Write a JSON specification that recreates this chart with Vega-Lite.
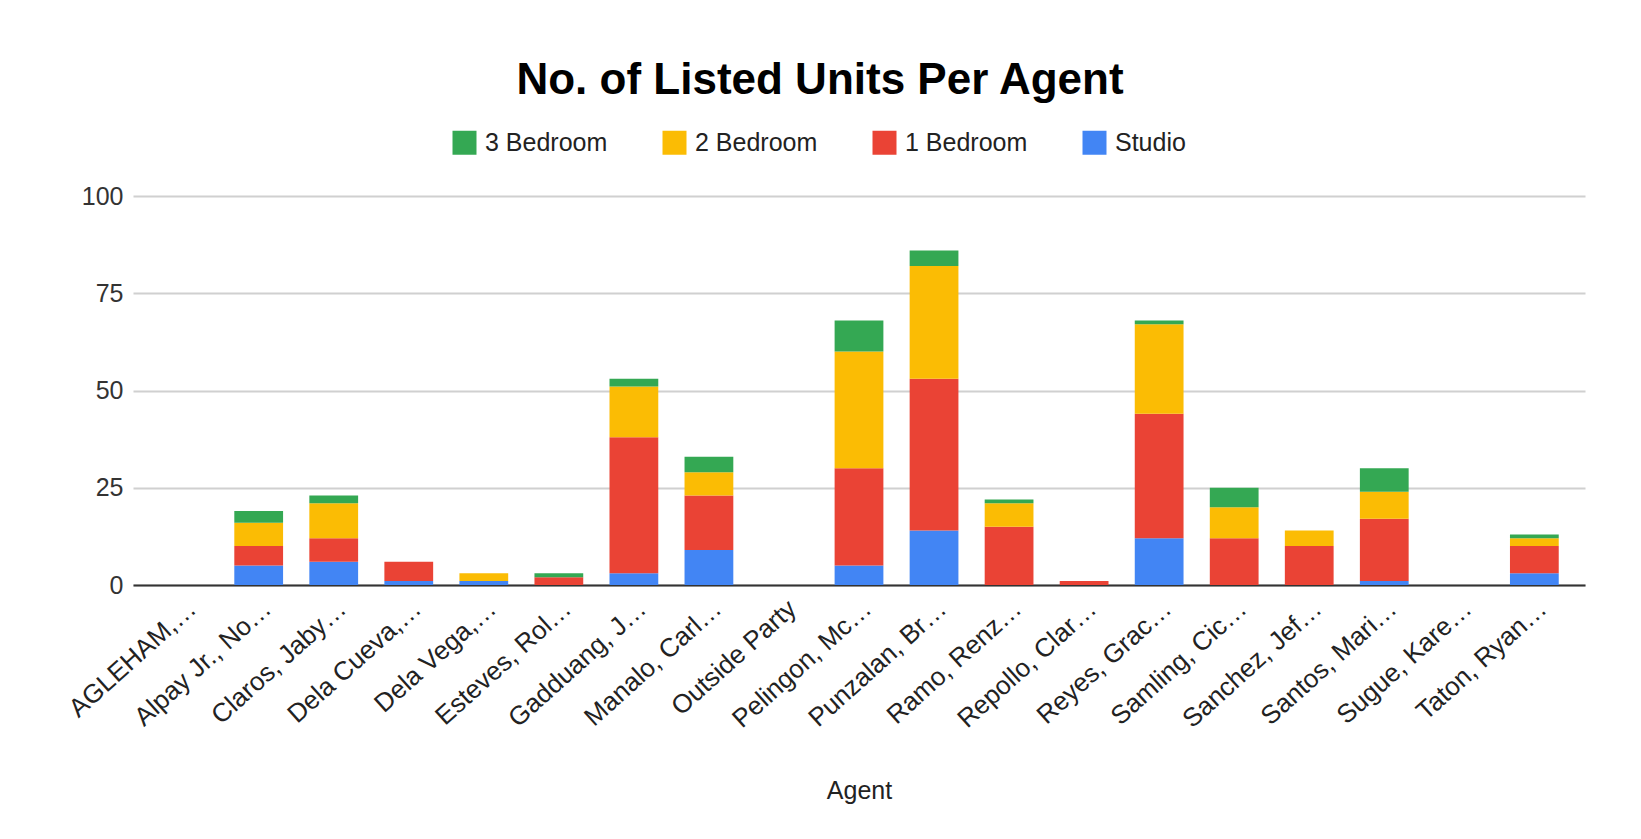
{
  "$schema": "https://vega.github.io/schema/vega-lite/v6.json",
  "autosize": {"type": "none"},
  "width": 1452,
  "height": 389,
  "padding": {"left": 133, "top": 196, "right": 56, "bottom": 254},
  "background": "white",
  "title": {
    "text": "No. of Listed Units Per Agent",
    "anchor": "middle",
    "frame": "group",
    "font": "Liberation Sans",
    "fontSize": 44,
    "fontWeight": "bold",
    "color": "#000000",
    "dx": -39,
    "offset": 27
  },
  "data": {
    "values": [
      {"agent": "Alpay Jr., No…", "type": "Studio", "bedrooms": 0, "count": 5},
      {"agent": "Alpay Jr., No…", "type": "1 Bedroom", "bedrooms": 1, "count": 5},
      {"agent": "Alpay Jr., No…", "type": "2 Bedroom", "bedrooms": 2, "count": 6},
      {"agent": "Alpay Jr., No…", "type": "3 Bedroom", "bedrooms": 3, "count": 3},
      {"agent": "Claros, Jaby…", "type": "Studio", "bedrooms": 0, "count": 6},
      {"agent": "Claros, Jaby…", "type": "1 Bedroom", "bedrooms": 1, "count": 6},
      {"agent": "Claros, Jaby…", "type": "2 Bedroom", "bedrooms": 2, "count": 9},
      {"agent": "Claros, Jaby…", "type": "3 Bedroom", "bedrooms": 3, "count": 2},
      {"agent": "Dela Cueva,…", "type": "Studio", "bedrooms": 0, "count": 1},
      {"agent": "Dela Cueva,…", "type": "1 Bedroom", "bedrooms": 1, "count": 5},
      {"agent": "Dela Vega,…", "type": "Studio", "bedrooms": 0, "count": 1},
      {"agent": "Dela Vega,…", "type": "2 Bedroom", "bedrooms": 2, "count": 2},
      {"agent": "Esteves, Rol…", "type": "1 Bedroom", "bedrooms": 1, "count": 2},
      {"agent": "Esteves, Rol…", "type": "3 Bedroom", "bedrooms": 3, "count": 1},
      {"agent": "Gadduang, J…", "type": "Studio", "bedrooms": 0, "count": 3},
      {"agent": "Gadduang, J…", "type": "1 Bedroom", "bedrooms": 1, "count": 35},
      {"agent": "Gadduang, J…", "type": "2 Bedroom", "bedrooms": 2, "count": 13},
      {"agent": "Gadduang, J…", "type": "3 Bedroom", "bedrooms": 3, "count": 2},
      {"agent": "Manalo, Carl…", "type": "Studio", "bedrooms": 0, "count": 9},
      {"agent": "Manalo, Carl…", "type": "1 Bedroom", "bedrooms": 1, "count": 14},
      {"agent": "Manalo, Carl…", "type": "2 Bedroom", "bedrooms": 2, "count": 6},
      {"agent": "Manalo, Carl…", "type": "3 Bedroom", "bedrooms": 3, "count": 4},
      {"agent": "Pelingon, Mc…", "type": "Studio", "bedrooms": 0, "count": 5},
      {"agent": "Pelingon, Mc…", "type": "1 Bedroom", "bedrooms": 1, "count": 25},
      {"agent": "Pelingon, Mc…", "type": "2 Bedroom", "bedrooms": 2, "count": 30},
      {"agent": "Pelingon, Mc…", "type": "3 Bedroom", "bedrooms": 3, "count": 8},
      {"agent": "Punzalan, Br…", "type": "Studio", "bedrooms": 0, "count": 14},
      {"agent": "Punzalan, Br…", "type": "1 Bedroom", "bedrooms": 1, "count": 39},
      {"agent": "Punzalan, Br…", "type": "2 Bedroom", "bedrooms": 2, "count": 29},
      {"agent": "Punzalan, Br…", "type": "3 Bedroom", "bedrooms": 3, "count": 4},
      {"agent": "Ramo, Renz…", "type": "1 Bedroom", "bedrooms": 1, "count": 15},
      {"agent": "Ramo, Renz…", "type": "2 Bedroom", "bedrooms": 2, "count": 6},
      {"agent": "Ramo, Renz…", "type": "3 Bedroom", "bedrooms": 3, "count": 1},
      {"agent": "Repollo, Clar…", "type": "1 Bedroom", "bedrooms": 1, "count": 1},
      {"agent": "Reyes, Grac…", "type": "Studio", "bedrooms": 0, "count": 12},
      {"agent": "Reyes, Grac…", "type": "1 Bedroom", "bedrooms": 1, "count": 32},
      {"agent": "Reyes, Grac…", "type": "2 Bedroom", "bedrooms": 2, "count": 23},
      {"agent": "Reyes, Grac…", "type": "3 Bedroom", "bedrooms": 3, "count": 1},
      {"agent": "Samling, Cic…", "type": "1 Bedroom", "bedrooms": 1, "count": 12},
      {"agent": "Samling, Cic…", "type": "2 Bedroom", "bedrooms": 2, "count": 8},
      {"agent": "Samling, Cic…", "type": "3 Bedroom", "bedrooms": 3, "count": 5},
      {"agent": "Sanchez, Jef…", "type": "1 Bedroom", "bedrooms": 1, "count": 10},
      {"agent": "Sanchez, Jef…", "type": "2 Bedroom", "bedrooms": 2, "count": 4},
      {"agent": "Santos, Mari…", "type": "Studio", "bedrooms": 0, "count": 1},
      {"agent": "Santos, Mari…", "type": "1 Bedroom", "bedrooms": 1, "count": 16},
      {"agent": "Santos, Mari…", "type": "2 Bedroom", "bedrooms": 2, "count": 7},
      {"agent": "Santos, Mari…", "type": "3 Bedroom", "bedrooms": 3, "count": 6},
      {"agent": "Taton, Ryan…", "type": "Studio", "bedrooms": 0, "count": 3},
      {"agent": "Taton, Ryan…", "type": "1 Bedroom", "bedrooms": 1, "count": 7},
      {"agent": "Taton, Ryan…", "type": "2 Bedroom", "bedrooms": 2, "count": 2},
      {"agent": "Taton, Ryan…", "type": "3 Bedroom", "bedrooms": 3, "count": 1}
    ]
  },
  "mark": {"type": "bar"},
  "encoding": {
    "x": {
      "field": "agent",
      "type": "nominal",
      "title": "Agent",
      "scale": {
        "domain": ["AGLEHAM,…", "Alpay Jr., No…", "Claros, Jaby…", "Dela Cueva,…", "Dela Vega,…", "Esteves, Rol…", "Gadduang, J…", "Manalo, Carl…", "Outside Party", "Pelingon, Mc…", "Punzalan, Br…", "Ramo, Renz…", "Repollo, Clar…", "Reyes, Grac…", "Samling, Cic…", "Sanchez, Jef…", "Santos, Mari…", "Sugue, Kare…", "Taton, Ryan…"],
        "paddingInner": 0.35,
        "paddingOuter": 0.35
      },
      "axis": {
        "labelAngle": -42,
        "labelAlign": "right",
        "labelBaseline": "top",
        "labelPadding": 10,
        "labelDx": 12,
        "labelFont": "Liberation Sans",
        "labelFontSize": 26,
        "labelColor": "#222222",
        "ticks": false,
        "domainColor": "#333333",
        "domainWidth": 2,
        "titleFont": "Liberation Sans",
        "titleFontSize": 25,
        "titleFontWeight": "normal",
        "titleColor": "#222222",
        "titlePadding": 46
      }
    },
    "y": {
      "field": "count",
      "type": "quantitative",
      "stack": "zero",
      "title": null,
      "scale": {"domain": [0, 100], "nice": false},
      "axis": {
        "values": [0, 25, 50, 75, 100],
        "domain": false,
        "ticks": false,
        "labelPadding": 10,
        "labelFont": "Liberation Sans",
        "labelFontSize": 25,
        "labelColor": "#333333",
        "gridColor": "#d0d0d0",
        "gridWidth": 2
      }
    },
    "order": {"field": "bedrooms", "type": "quantitative", "sort": "ascending"},
    "color": {
      "field": "type",
      "type": "nominal",
      "scale": {
        "domain": ["3 Bedroom", "2 Bedroom", "1 Bedroom", "Studio"],
        "range": ["#34A853", "#FBBC04", "#EA4335", "#4285F4"]
      },
      "legend": {
        "title": null,
        "orient": "none",
        "direction": "horizontal",
        "legendX": 319,
        "legendY": -66,
        "symbolType": "square",
        "symbolSize": 576,
        "symbolStrokeWidth": 0,
        "symbolOpacity": 1,
        "labelFont": "Liberation Sans",
        "labelFontSize": 25,
        "labelColor": "#222222",
        "labelOffset": 8,
        "columnPadding": 54
      }
    }
  },
  "config": {
    "view": {"stroke": null}
  }
}
